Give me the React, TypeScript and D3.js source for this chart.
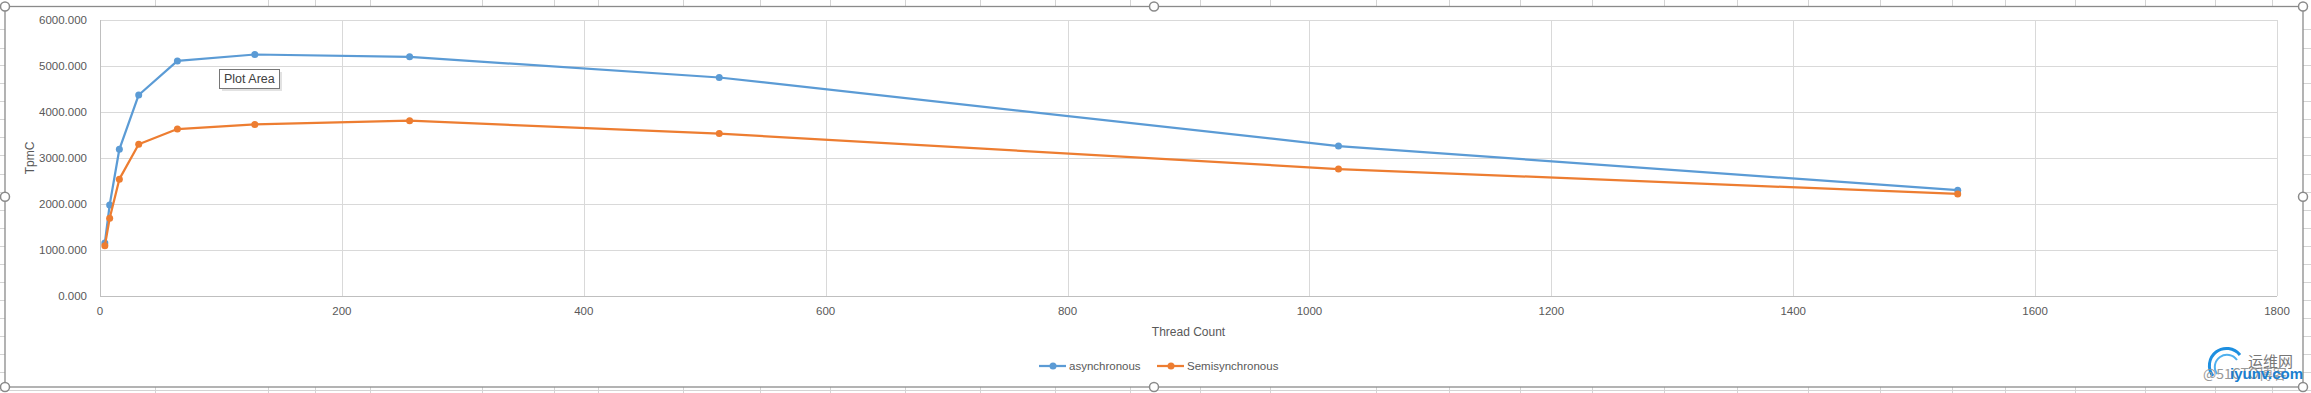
import React from "react";
import * as d3 from "d3";

// thread counts and TpmC
const threadCounts = [4, 8, 16, 32, 64, 128, 256, 512, 1024, 1536];
const asyncTpmc = [1150, 1980, 3190, 4370, 5110, 5250, 5200, 4750, 3260, 2300];
const semiTpmc = [1090, 1690, 2540, 3300, 3630, 3730, 3810, 3530, 2760, 2220];

const seriesNames = ["asynchronous", "Semisynchronous"];
const seriesColors = ["#5B9BD5", "#ED7D31"];

const xTicks = [0, 200, 400, 600, 800, 1000, 1200, 1400, 1600, 1800];
const yTicks = [0, 1000, 2000, 3000, 4000, 5000, 6000];

// spreadsheet column edges peeking out around the chart frame
const sheetCols = [155, 268, 315, 370, 482, 554, 598, 683, 760, 830, 905, 980, 1055, 1130, 1200, 1270, 1376, 1449, 1520, 1592, 1664, 1737, 1808, 1880, 1952, 2005, 2075, 2145, 2215, 2272];
const sheetRows = [29, 48, 65, 83, 101, 119, 137, 155, 174, 192, 210, 228, 246, 264, 282, 300, 318, 336, 354, 372];

const W = 2311;
const H = 393;
const font = "'Liberation Sans', Arial, sans-serif";
const textColor = "#595959";

export default function App() {
  const plot = { left: 100, right: 2277, top: 20, bottom: 296 };

  const x = d3.scaleLinear().domain([0, 1800]).range([plot.left, plot.right]);
  const y = d3.scaleLinear().domain([0, 6000]).range([plot.bottom, plot.top]);

  const series = [asyncTpmc, semiTpmc].map((vals, i) => ({
    name: seriesNames[i],
    color: seriesColors[i],
    points: threadCounts.map((t, j) => [t, vals[j]] as [number, number]),
  }));

  const line = d3
    .line<[number, number]>()
    .x((d) => x(d[0]))
    .y((d) => y(d[1]));

  const frame = { left: 5, right: 2303, top: 6.5, bottom: 387 };
  const handles = [
    [frame.left, frame.top],
    [(frame.left + frame.right) / 2, frame.top],
    [frame.right, frame.top],
    [frame.left, (frame.top + frame.bottom) / 2],
    [frame.right, (frame.top + frame.bottom) / 2],
    [frame.left, frame.bottom],
    [(frame.left + frame.right) / 2, frame.bottom],
    [frame.right, frame.bottom],
  ];

  const legendX = [1039, 1157];

  return (
    <svg
      width={W}
      height={H}
      style={{ position: "absolute", left: 0, top: 0, background: "#fff" }}
      fontFamily={font}
    >
      {/* sheet grid behind the chart object */}
      <g stroke="#d4d4d4" strokeWidth={1}>
        {sheetCols.map((c) => (
          <g key={"c" + c}>
            <line x1={c + 0.5} x2={c + 0.5} y1={0} y2={frame.top} />
            <line x1={c + 0.5} x2={c + 0.5} y1={frame.bottom} y2={H} />
          </g>
        ))}
        {sheetRows.map((r) => (
          <g key={"r" + r}>
            <line x1={0} x2={frame.left} y1={r + 0.5} y2={r + 0.5} />
            <line x1={frame.right} x2={W} y1={r + 0.5} y2={r + 0.5} />
          </g>
        ))}
        <line x1={0} x2={W} y1={frame.bottom + 3.5} y2={frame.bottom + 3.5} />
      </g>

      {/* chart frame */}
      <rect
        x={frame.left}
        y={frame.top}
        width={frame.right - frame.left}
        height={frame.bottom - frame.top}
        fill="#fff"
        stroke="#8a8a8a"
        strokeWidth={1.3}
      />

      {/* gridlines */}
      <g stroke="#d9d9d9" strokeWidth={1}>
        {yTicks.slice(1).map((t) => (
          <line key={"gy" + t} x1={plot.left} x2={plot.right} y1={Math.round(y(t)) + 0.5} y2={Math.round(y(t)) + 0.5} />
        ))}
        {xTicks.slice(1).map((t) => (
          <line key={"gx" + t} x1={Math.round(x(t)) + 0.5} x2={Math.round(x(t)) + 0.5} y1={plot.top} y2={plot.bottom} />
        ))}
      </g>
      <line x1={plot.left + 0.5} x2={plot.left + 0.5} y1={plot.top} y2={plot.bottom} stroke="#bfbfbf" />
      <line x1={plot.left} x2={plot.right} y1={plot.bottom + 0.5} y2={plot.bottom + 0.5} stroke="#bfbfbf" />

      {/* y tick labels */}
      <g fontSize={11.5} fill={textColor} textAnchor="end">
        {yTicks.map((t) => (
          <text key={"ty" + t} x={87} y={y(t)} dy="0.35em">
            {d3.format(".3f")(t)}
          </text>
        ))}
      </g>
      {/* x tick labels */}
      <g fontSize={11.5} fill={textColor} textAnchor="middle">
        {xTicks.map((t) => (
          <text key={"tx" + t} x={x(t)} y={311} dy="0.35em">
            {t}
          </text>
        ))}
      </g>

      {/* axis titles */}
      <text
        transform={`translate(30,${(plot.top + plot.bottom) / 2}) rotate(-90)`}
        textAnchor="middle"
        dy="0.35em"
        fontSize={12}
        fill={textColor}
      >
        TpmC
      </text>
      <text x={(plot.left + plot.right) / 2} y={332} dy="0.35em" textAnchor="middle" fontSize={12} fill={textColor}>
        Thread Count
      </text>

      {/* series */}
      {series.map((s) => (
        <g key={s.name}>
          <path d={line(s.points) || ""} fill="none" stroke={s.color} strokeWidth={2.25} strokeLinejoin="round" />
          {s.points.map((p, j) => (
            <circle key={j} cx={x(p[0])} cy={y(p[1])} r={3.5} fill={s.color} />
          ))}
        </g>
      ))}

      {/* legend */}
      {series.map((s, i) => (
        <g key={"lg" + s.name} transform={`translate(${legendX[i]},366)`}>
          <line x1={0} x2={27} y1={0} y2={0} stroke={s.color} strokeWidth={2.25} />
          <circle cx={14} cy={0} r={3.5} fill={s.color} />
          <text x={30} dy="0.35em" fontSize={11.5} fill={textColor}>
            {s.name}
          </text>
        </g>
      ))}

      {/* hover tooltip */}
      <rect x={222} y={72} width={60} height={19} fill="#cfcfcf" opacity={0.6} />
      <rect x={219.5} y={69.5} width={60} height={19} fill="#fff" stroke="#767676" />
      <text x={224} y={79} dy="0.35em" fontSize={12.5} fill="#404040">
        Plot Area
      </text>

      {/* selection handles */}
      {handles.map((h, i) => (
        <circle key={"h" + i} cx={h[0]} cy={h[1]} r={4.5} fill="#fff" stroke="#8a8a8a" strokeWidth={1.5} />
      ))}

      {/* watermark */}
      <g>
        <path d="M2213,376 A15,15 0 1 1 2240,355" fill="none" stroke="#1d8fe0" strokeWidth={3} />
        <path d="M2217,374 A10,10 0 1 1 2237,360" fill="none" stroke="#4fb0ee" strokeWidth={2} />
        <text x={2248} y={362} dy="0.35em" fontSize={15} fill="#777" fontFamily="'Noto Sans CJK SC', sans-serif">
          运维网
        </text>
        <text x={2203} y={374} dy="0.35em" fontSize={14} fill="#999" fontFamily="'Noto Sans CJK SC', sans-serif">
          @51CTO博客
        </text>
        <text x={2230} y={374} dy="0.35em" fontSize={15} fill="#1a7fd0" fontWeight="bold">
          iyunv.com
        </text>
      </g>
    </svg>
  );
}
